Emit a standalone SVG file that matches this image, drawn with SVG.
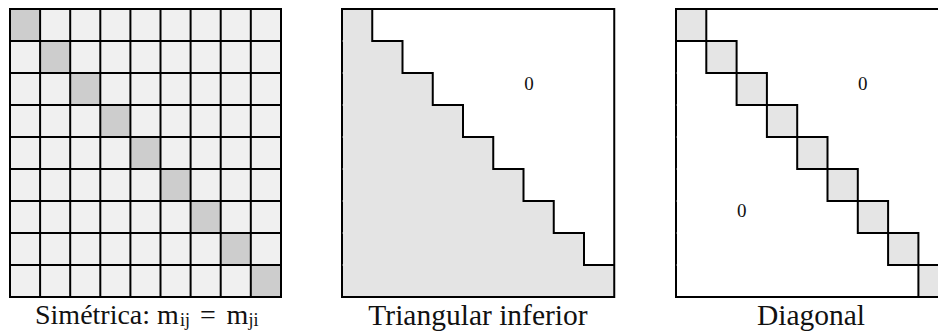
<svg xmlns="http://www.w3.org/2000/svg" width="938" height="332" viewBox="0 0 938 332">
<style>
.ln{stroke:#000;stroke-width:2;fill:none}
.lbl{font-family:"Liberation Serif","Times New Roman",serif;font-size:28px;fill:#111}
.big{font-size:29.5px}
.sub{font-family:"Liberation Serif","Times New Roman",serif;font-size:18px;fill:#111}
.zero{font-family:"Liberation Serif","Times New Roman",serif;font-size:19px;fill:#111;text-anchor:middle}
.tick{stroke:#fff;stroke-width:1}
</style>
<rect width="938" height="332" fill="#fff"/>
<g id="simetrica">
<rect x="10" y="9" width="271" height="288" fill="#f0f0f0"/>
<g fill="#cdcdcd">
<rect x="10" y="9" width="30.1" height="32"/>
<rect x="40.1" y="41" width="30.1" height="32"/>
<rect x="70.2" y="73" width="30.1" height="32"/>
<rect x="100.3" y="105" width="30.1" height="32"/>
<rect x="130.4" y="137" width="30.1" height="32"/>
<rect x="160.5" y="169" width="30.1" height="32"/>
<rect x="190.6" y="201" width="30.1" height="32"/>
<rect x="220.7" y="233" width="30.1" height="32"/>
<rect x="250.8" y="265" width="30.2" height="32"/>
</g>
<path class="ln" d="M40.1 9V297M70.2 9V297M100.3 9V297M130.4 9V297M160.5 9V297M190.6 9V297M220.7 9V297M250.8 9V297M10 41H281M10 73H281M10 105H281M10 137H281M10 169H281M10 201H281M10 233H281M10 265H281"/>
<rect class="ln" x="10" y="9" width="271" height="288"/>
<text class="lbl" y="324"><tspan x="35">Simétrica:</tspan><tspan x="157">m</tspan></text>
<text class="sub" y="326" x="180">ij</text>
<text class="lbl" y="324" x="200">=</text>
<text class="lbl" y="324" x="226.5">m</text>
<text class="sub" y="326" x="248.5">ji</text>
</g>
<g id="triangular">
<path fill="#e4e4e4" d="M342 9H372.25V41H402.5V73H432.75V105H463V137H493.25V169H523.5V201H553.75V233H584V265H614.25V297H342Z"/>
<path class="ln" d="M372.25 9V41H402.5V73H432.75V105H463V137H493.25V169H523.5V201H553.75V233H584V265H614.25"/>
<rect class="ln" x="342" y="9" width="272.25" height="288"/>
<path class="tick" d="M342.5 41H343.5M342.5 73H343.5M342.5 105H343.5M342.5 137H343.5M342.5 169H343.5M342.5 201H343.5M342.5 233H343.5M342.5 265H343.5"/>
<text class="zero" x="529" y="89.5">0</text>
<text class="lbl big" x="478" y="324.5" text-anchor="middle">Triangular inferior</text>
</g>
<g id="diagonal">
<rect class="ln" x="676" y="9" width="272.7" height="288"/>
<g fill="#e5e5e5" stroke="#000" stroke-width="2">
<rect x="676" y="9" width="30.3" height="32"/>
<rect x="706.3" y="41" width="30.3" height="32"/>
<rect x="736.6" y="73" width="30.3" height="32"/>
<rect x="766.9" y="105" width="30.3" height="32"/>
<rect x="797.2" y="137" width="30.3" height="32"/>
<rect x="827.5" y="169" width="30.3" height="32"/>
<rect x="857.8" y="201" width="30.3" height="32"/>
<rect x="888.1" y="233" width="30.3" height="32"/>
<rect x="918.4" y="265" width="30.3" height="32"/>
</g>
<path class="tick" d="M676.5 73H677.5M676.5 105H677.5M676.5 137H677.5M676.5 169H677.5M676.5 201H677.5M676.5 233H677.5M676.5 265H677.5"/>
<text class="zero" x="862.7" y="89.5">0</text>
<text class="zero" x="741.7" y="216.5">0</text>
<text class="lbl big" x="811" y="324.5" text-anchor="middle">Diagonal</text>
</g>
<g id="connectors"/>
</svg>
